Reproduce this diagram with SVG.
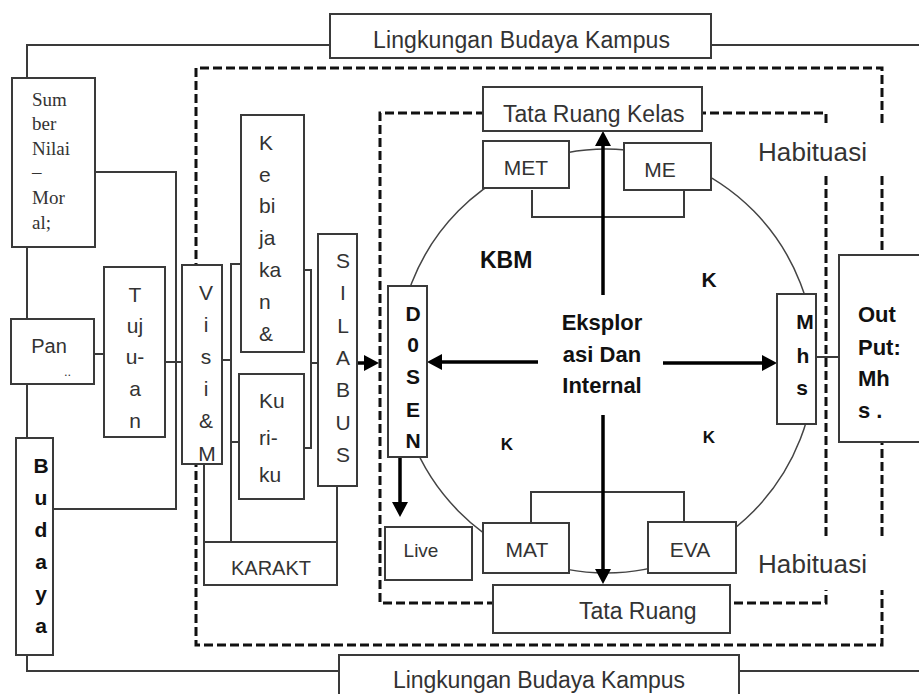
<svg xmlns="http://www.w3.org/2000/svg" width="919" height="694" viewBox="0 0 919 694">
<defs>
<style>
.box{fill:#fff;stroke:#3a3a3a;stroke-width:2}
.ln{fill:none;stroke:#3a3a3a;stroke-width:2}
.dash{fill:none;stroke:#111;stroke-width:3;stroke-dasharray:9 4}
.arr{fill:none;stroke:#000;stroke-width:3.5}
.t{font-family:"Liberation Sans",Arial,sans-serif;font-size:21px;fill:#333}
.b{font-weight:bold;fill:#111}
.c{text-anchor:middle}
.s{font-family:"Liberation Serif","Times New Roman",serif;font-size:19px;fill:#333}
.f13{font-size:13px}
.f17{font-size:17px}
.f19{font-size:19px}
.f20{font-size:20px}
.f22{font-size:22px}
.f23{font-size:23px}
.f26{font-size:26px}
</style>
<marker id="ah" markerUnits="userSpaceOnUse" markerWidth="16" markerHeight="16" refX="5" refY="8" orient="auto"><path d="M0,0 L15,8 L0,16 z" fill="#000"/></marker>
</defs>
<rect width="919" height="694" fill="#fff"/>

<g id="connectors">
<path class="ln" d="M330,45 H27 V671 H339"/>
<path class="ln" d="M711,45 H919"/>
<path class="ln" d="M739,671 H919"/>
<path class="dash" d="M882,123 V68 H196 V645 H882 V590"/>
<path class="dash" d="M882,176 V538"/>
<path class="dash" d="M826,123 V113 H380 V603 H826 V590"/>
<path class="dash" d="M826,176 V538"/>
<ellipse cx="606" cy="361" rx="209" ry="212" fill="none" stroke="#444" stroke-width="1.5"/>
<path class="ln" d="M95,172 H176 V509 H53"/>
<path class="ln" d="M94,354 H104"/>
<path class="ln" d="M165,362 H182"/>
<path class="ln" d="M222,360 H231"/>
<path class="ln" d="M241,264 H231 V542"/>
<path class="ln" d="M231,442 H239"/>
<path class="ln" d="M304,270 H311 V448 H304"/>
<path class="ln" d="M311,363 H318"/>
<path class="ln" d="M204,464 V542"/>
<path class="ln" d="M337,486 V542"/>
<path class="ln" d="M532,190 V217 H684 V190"/>
<path class="ln" d="M531,523 V492 H684 V522"/>
<path class="ln" d="M816,357 H839"/>
<path class="arr" marker-end="url(#ah)" d="M357,363 H369"/>
<path class="arr" marker-end="url(#ah)" d="M603,295 V141"/>
<path class="arr" marker-end="url(#ah)" d="M603,415 V574"/>
<path class="arr" marker-end="url(#ah)" d="M538,362 H437"/>
<path class="arr" marker-end="url(#ah)" d="M663,363 H767"/>
<path class="arr" marker-end="url(#ah)" d="M400,458 V507"/>
</g>

<g id="lingkungan-top">
<rect class="box" x="330" y="14" width="381" height="44"/>
<text class="t f23" x="373" y="48" textLength="297" lengthAdjust="spacing">Lingkungan Budaya Kampus</text>
</g>
<g id="lingkungan-bottom">
<rect class="box" x="339" y="655" width="400" height="50"/>
<text class="t f23" x="393" y="688" textLength="292" lengthAdjust="spacing">Lingkungan Budaya Kampus</text>
</g>

<g id="sumber">
<rect class="box" x="12" y="78" width="83" height="169"/>
<text class="s" x="32" y="106">Sum</text>
<text class="s" x="32" y="130">ber</text>
<text class="s" x="32" y="155">Nilai</text>
<text class="s" x="32" y="178">–</text>
<text class="s" x="32" y="204">Mor</text>
<text class="s" x="32" y="229">al;</text>
</g>

<g id="pan">
<rect class="box" x="11" y="319" width="83" height="65"/>
<text class="t c f20" x="49" y="353">Pan</text>
<text class="t f13" x="64" y="376">..</text>
</g>

<g id="tujuan">
<rect class="box" x="104" y="267" width="61" height="170"/>
<text class="t c" x="135" y="302">T</text>
<text class="t c" x="135" y="333">uj</text>
<text class="t c" x="135" y="364">u-</text>
<text class="t c" x="135" y="396">a</text>
<text class="t c" x="135" y="428">n</text>
</g>

<g id="visi">
<rect class="box" x="182" y="265" width="40" height="199"/>
<text class="t c" x="206" y="300">V</text>
<text class="t c" x="206" y="332">i</text>
<text class="t c" x="206" y="364">s</text>
<text class="t c" x="206" y="396">i</text>
<text class="t c" x="206" y="428">&amp;</text>
<text class="t c" x="207" y="461">M</text>
</g>

<g id="kebijakan">
<rect class="box" x="241" y="115" width="63" height="237"/>
<text class="t" x="259" y="150">K</text>
<text class="t" x="259" y="182">e</text>
<text class="t" x="259" y="213">bi</text>
<text class="t" x="259" y="245">ja</text>
<text class="t" x="259" y="277">ka</text>
<text class="t" x="259" y="309">n</text>
<text class="t" x="259" y="341">&amp;</text>
</g>

<g id="kurikulum">
<rect class="box" x="239" y="374" width="65" height="125"/>
<text class="t" x="259" y="408">Ku</text>
<text class="t" x="259" y="445">ri-</text>
<text class="t" x="259" y="482">ku</text>
</g>

<g id="silabus">
<rect class="box" x="318" y="234" width="39" height="252"/>
<text class="t c" x="343" y="268">S</text>
<text class="t c" x="343" y="300">I</text>
<text class="t c" x="343" y="333">L</text>
<text class="t c" x="343" y="365">A</text>
<text class="t c" x="343" y="397">B</text>
<text class="t c" x="343" y="430">U</text>
<text class="t c" x="343" y="462">S</text>
</g>

<g id="karakt">
<rect class="box" x="204" y="542" width="133" height="43"/>
<text class="t c f20" x="271" y="575">KARAKT</text>
</g>

<g id="budaya">
<rect class="box" x="16" y="438" width="37" height="217"/>
<text class="t b c" x="41" y="473">B</text>
<text class="t b c" x="41" y="505">u</text>
<text class="t b c" x="41" y="537">d</text>
<text class="t b c" x="41" y="569">a</text>
<text class="t b c" x="41" y="601">y</text>
<text class="t b c" x="41" y="633">a</text>
</g>

<g id="tata-ruang-kelas">
<rect class="box" x="483" y="87" width="219" height="44"/>
<text class="t f23" x="503" y="122">Tata Ruang Kelas</text>
</g>

<g id="tata-ruang">
<rect class="box" x="493" y="585" width="237" height="48"/>
<text class="t f23" x="579" y="619">Tata Ruang</text>
</g>

<g id="met">
<rect class="box" x="483" y="141" width="86" height="47"/>
<text class="t c" x="526" y="175">MET</text>
</g>
<g id="me">
<rect class="box" x="624" y="143" width="87" height="47"/>
<text class="t c" x="660" y="177">ME</text>
</g>
<g id="mat">
<rect class="box" x="483" y="523" width="86" height="50"/>
<text class="t c" x="527" y="557">MAT</text>
</g>
<g id="eva">
<rect class="box" x="648" y="522" width="88" height="51"/>
<text class="t c" x="690" y="557">EVA</text>
</g>

<g id="dosen">
<rect class="box" x="388" y="286" width="39" height="171"/>
<text class="t b c" x="413" y="321">D</text>
<text class="t b c" x="413" y="352">0</text>
<text class="t b c" x="413" y="384">S</text>
<text class="t b c" x="413" y="417">E</text>
<text class="t b c" x="413" y="448">N</text>
</g>

<g id="live">
<rect class="box" x="385" y="527" width="87" height="53"/>
<text class="t c f19" x="421" y="557">Live</text>
</g>

<g id="mhs">
<rect class="box" x="777" y="294" width="39" height="130"/>
<text class="t b c" x="805" y="329">M</text>
<text class="t b c" x="803" y="363">h</text>
<text class="t b c" x="802" y="395">s</text>
</g>

<g id="output">
<rect class="box" x="839" y="255" width="90" height="187"/>
<text class="t b f22" x="858" y="322">Out</text>
<text class="t b f22" x="858" y="355">Put:</text>
<text class="t b f22" x="858" y="386">Mh</text>
<text class="t b f22" x="858" y="418">s .</text>
</g>

<g id="kbm-center">
<text class="t b c f22" x="602" y="330">Eksplor</text>
<text class="t b c f22" x="602" y="362">asi Dan</text>
<text class="t b c f22" x="602" y="393">Internal</text>
</g>

<g id="labels">
<text class="t b f23" x="480" y="268">KBM</text>
<text class="t b c" x="709" y="287">K</text>
<text class="t b c f17" x="709" y="443">K</text>
<text class="t b c f17" x="507" y="450">K</text>
<text class="t f26" x="758" y="161" textLength="109" lengthAdjust="spacing">Habituasi</text>
<text class="t f26" x="758" y="573" textLength="109" lengthAdjust="spacing">Habituasi</text>
</g>
</svg>
